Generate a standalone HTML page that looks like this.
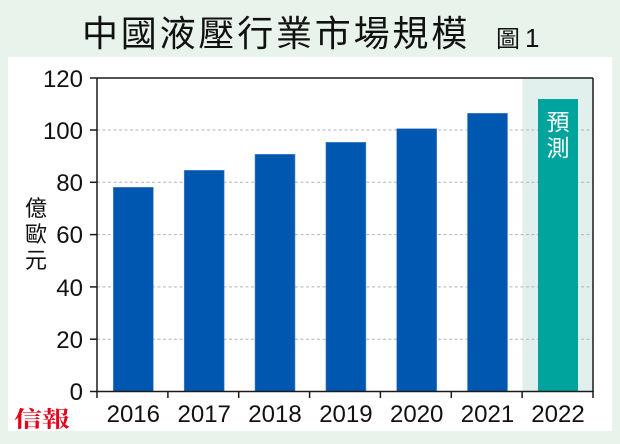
<!DOCTYPE html>
<html><head><meta charset="utf-8"><style>
html,body{margin:0;padding:0;background:#e8f3ec;}
svg{display:block;}
.num{font-family:"Liberation Sans",Arial,sans-serif;font-size:24px;fill:#111;}
.cjk{font-family:"Liberation Sans","Noto Sans CJK TC",sans-serif;}
</style></head><body>
<svg width="620" height="444" viewBox="0 0 620 444" xmlns="http://www.w3.org/2000/svg">
<rect x="0" y="0" width="620" height="444" fill="#e8f3ec"/>
<rect x="8" y="57" width="604" height="374" fill="#ffffff"/>
<!-- title -->
<text x="82" y="46" class="cjk" font-size="36" letter-spacing="2.8" fill="#111">中國液壓行業市場規模</text>
<text x="496" y="47" class="cjk" font-size="24" fill="#111">圖</text>
<text x="525" y="47" font-family="Liberation Sans, sans-serif" font-size="26" fill="#111">1</text>
<!-- forecast shading -->
<rect x="522.5" y="78" width="70.5" height="313.5" fill="#e2f0ed"/>
<!-- gridlines -->
<g stroke="#b4b4b4" stroke-width="1" stroke-dasharray="3,2.5">
<line x1="97" y1="130" x2="593" y2="130"/>
<line x1="97" y1="182.3" x2="593" y2="182.3"/>
<line x1="97" y1="234.6" x2="593" y2="234.6"/>
<line x1="97" y1="286.9" x2="593" y2="286.9"/>
<line x1="97" y1="339.2" x2="593" y2="339.2"/>
</g>
<!-- bars -->
<g fill="#0057b0" stroke="#5a8fd0" stroke-width="0.6">
<rect x="113.3" y="187.3" width="40" height="204.2"/>
<rect x="184.2" y="170.3" width="40" height="221.2"/>
<rect x="255" y="154.3" width="40" height="237.2"/>
<rect x="325.9" y="142.3" width="40" height="249.2"/>
<rect x="396.7" y="128.7" width="40" height="262.8"/>
<rect x="467.5" y="113.3" width="40" height="278.2"/>
</g>
<rect x="538" y="99" width="40" height="292.5" fill="#00a49c"/>
<text x="558" y="130" class="cjk" font-size="23" fill="#ffffff" text-anchor="middle">預</text>
<text x="558" y="156" class="cjk" font-size="23" fill="#ffffff" text-anchor="middle">測</text>
<!-- axes frame -->
<g stroke="#1a1a1a" stroke-width="1.5" fill="none">
<line x1="97" y1="78" x2="97" y2="391.5"/>
<line x1="96.3" y1="391.5" x2="593.7" y2="391.5"/>
<line x1="97" y1="78" x2="593" y2="78"/>
<line x1="593" y1="78" x2="593" y2="392"/>
<!-- y ticks -->
<line x1="90" y1="78" x2="97" y2="78"/>
<line x1="90" y1="130" x2="97" y2="130"/>
<line x1="90" y1="182.3" x2="97" y2="182.3"/>
<line x1="90" y1="234.6" x2="97" y2="234.6"/>
<line x1="90" y1="286.9" x2="97" y2="286.9"/>
<line x1="90" y1="339.2" x2="97" y2="339.2"/>
<line x1="90" y1="391.5" x2="97" y2="391.5"/>
<!-- x ticks -->
<line x1="97" y1="391.5" x2="97" y2="398"/>
<line x1="167.9" y1="391.5" x2="167.9" y2="398"/>
<line x1="238.7" y1="391.5" x2="238.7" y2="398"/>
<line x1="309.6" y1="391.5" x2="309.6" y2="398"/>
<line x1="380.4" y1="391.5" x2="380.4" y2="398"/>
<line x1="451.3" y1="391.5" x2="451.3" y2="398"/>
<line x1="522.1" y1="391.5" x2="522.1" y2="398"/>
<line x1="593" y1="391.5" x2="593" y2="398"/>
</g>
<!-- y labels -->
<g class="num" text-anchor="end">
<text x="83" y="87">120</text>
<text x="83" y="139">100</text>
<text x="83" y="191">80</text>
<text x="83" y="243">60</text>
<text x="83" y="296">40</text>
<text x="83" y="348">20</text>
<text x="83" y="400">0</text>
</g>
<!-- y axis title -->
<g class="cjk" font-size="22" fill="#111" text-anchor="middle">
<text x="36" y="216">億</text>
<text x="36" y="242">歐</text>
<text x="36" y="268">元</text>
</g>
<!-- x labels -->
<g class="num" text-anchor="middle">
<text x="133.3" y="422">2016</text>
<text x="204.2" y="422">2017</text>
<text x="275" y="422">2018</text>
<text x="345.9" y="422">2019</text>
<text x="416.7" y="422">2020</text>
<text x="487.5" y="422">2021</text>
<text x="558" y="422">2022</text>
</g>
<!-- logo -->
<text x="14" y="427" font-family="'Noto Serif CJK SC','Noto Serif CJK TC',serif" font-weight="bold" font-size="28" fill="#e3001b" transform="translate(0,427) scale(1,0.8) translate(0,-427)">信報</text>
</svg>
</body></html>
